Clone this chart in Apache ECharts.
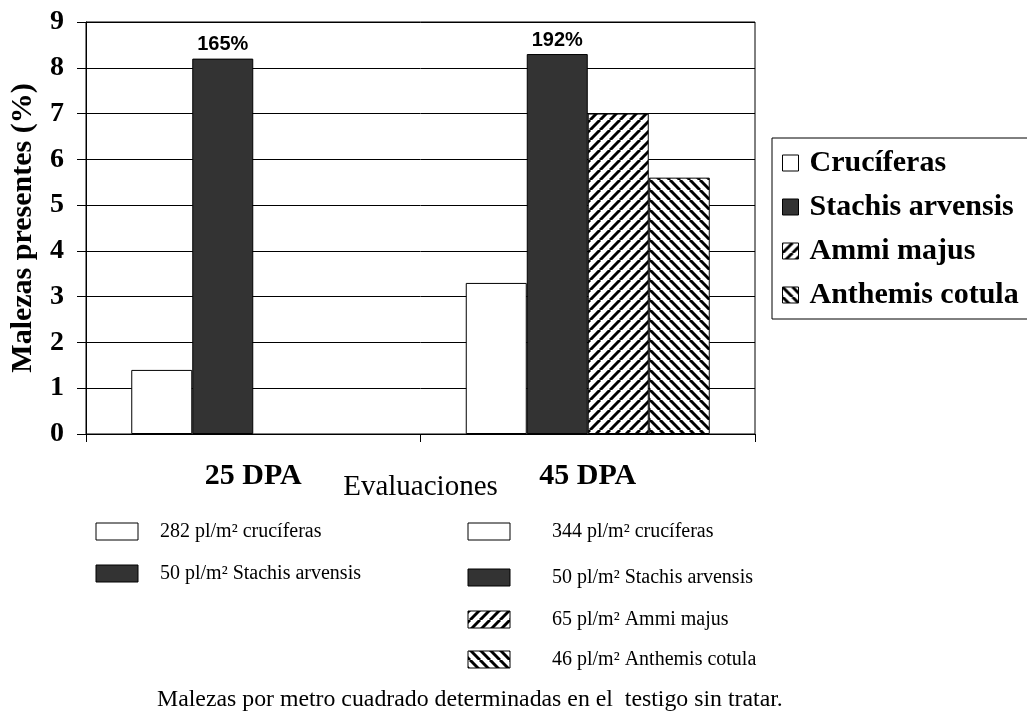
<!DOCTYPE html>
<html>
<head>
<meta charset="utf-8">
<script src="https://cdn.jsdelivr.net/npm/echarts@6/dist/echarts.min.js"></script>
<style>
  html, body { margin: 0; padding: 0; background: #fff; }
  #chart { width: 1027px; height: 713px; }
</style>
</head>
<body>
<div id="chart"></div>
<script>
// Categories (evaluation dates) and weed presence per species (%)
const categories = ['25 DPA', '45 DPA'];
const seriesNames = ['Crucíferas', 'Stachis arvensis', 'Ammi majus', 'Anthemis cotula'];
const cruciferas = [1.4, 3.3];
const stachis = [8.2, 8.3];
const ammi = [null, 7.0];
const anthemis = [null, 5.6];
const stachisLabels = ['165%', '192%'];

// Weed density in the untreated control (plants per m²)
const density25 = [282, 50];
const densityNames25 = ['crucíferas', 'Stachis arvensis'];
const density45 = [344, 50, 65, 46];
const densityNames45 = ['crucíferas', 'Stachis arvensis', 'Ammi majus', 'Anthemis cotula'];
const footNote = 'Malezas por metro cuadrado determinadas en el  testigo sin tratar.';

const SERIF = '"Liberation Serif", "Times New Roman", serif';
const SANS = '"Liberation Sans", Arial, sans-serif';

// Diagonal hatch tile: '/' or '\'
function stripeTile(dir, period, width) {
  const c = document.createElement('canvas');
  c.width = period; c.height = period;
  const g = c.getContext('2d');
  g.fillStyle = '#fff';
  g.fillRect(0, 0, period, period);
  g.strokeStyle = '#000';
  g.lineWidth = width;
  for (const k of [-period, 0, period]) {
    g.beginPath();
    if (dir === '/') { g.moveTo(k, period); g.lineTo(k + period, 0); }
    else { g.moveTo(k, 0); g.lineTo(k + period, period); }
    g.stroke();
  }
  return c;
}
const hatchUp = { image: stripeTile('/', 10, 3), repeat: 'repeat' };
const hatchDown = { image: stripeTile('\\', 10, 3), repeat: 'repeat' };
const fills = ['#ffffff', '#333333', hatchUp, hatchDown];
const seriesData = [cruciferas, stachis, ammi, anthemis];

const chart = echarts.init(document.getElementById('chart'), null, { renderer: 'canvas' });

// Density key below the chart
const graphics = [];
const col1 = { swX: 96, txX: 160, rows: [532, 574] };
const col2 = { swX: 468, txX: 552, rows: [532, 578, 620, 660] };
function addKey(col, values, names) {
  values.forEach((v, i) => {
    graphics.push({
      type: 'rect',
      shape: { x: col.swX, y: col.rows[i] - 9, width: 42, height: 17 },
      style: { fill: fills[i], stroke: '#000', lineWidth: 1 }
    });
    graphics.push({
      type: 'text',
      style: {
        x: col.txX, y: col.rows[i],
        text: v + ' pl/m² ' + names[i],
        font: '20px ' + SERIF, fill: '#000', verticalAlign: 'middle'
      }
    });
  });
}
addKey(col1, density25, densityNames25);
addKey(col2, density45, densityNames45);
graphics.push({
  type: 'text',
  style: {
    x: 157, y: 700, text: footNote,
    font: '23.8px ' + SERIF, fill: '#000', verticalAlign: 'middle'
  }
});

const option = {
  backgroundColor: '#fff',
  animation: false,
  grid: {
    left: 86, right: 272, top: 22, bottom: 279,
    show: true, borderColor: '#000', borderWidth: 1, backgroundColor: 'transparent'
  },
  legend: {
    orient: 'vertical',
    left: 772, top: 138,
    padding: [10, 60, 9, 10],
    itemGap: 14,
    itemWidth: 16, itemHeight: 16,
    icon: 'rect',
    borderColor: '#000', borderWidth: 1,
    itemStyle: { borderColor: '#000', borderWidth: 1 },
    textStyle: { fontFamily: SERIF, fontWeight: 'bold', fontSize: 30, lineHeight: 30, color: '#000', padding: [0, 0, 0, 6] },
    data: seriesNames
  },
  xAxis: {
    type: 'category',
    data: categories,
    boundaryGap: true,
    axisLine: { lineStyle: { color: '#000', width: 1 } },
    axisTick: { show: true, length: 8, lineStyle: { color: '#000' } },
    axisLabel: { margin: 27, fontFamily: SERIF, fontWeight: 'bold', fontSize: 30, color: '#000' },
    name: 'Evaluaciones',
    nameLocation: 'middle',
    nameGap: 39,
    nameMoveOverlap: false,
    nameTextStyle: { fontFamily: SERIF, fontSize: 29, color: '#000' }
  },
  yAxis: {
    type: 'value',
    min: 0, max: 9, interval: 1,
    axisLine: { show: true, lineStyle: { color: '#000', width: 1 } },
    axisTick: { show: true, length: 9, lineStyle: { color: '#000' } },
    axisLabel: { margin: 22, fontFamily: SERIF, fontWeight: 'bold', fontSize: 28, color: '#000' },
    splitLine: { show: true, lineStyle: { color: '#000', width: 1 } },
    name: 'Malezas presentes (%)',
    nameLocation: 'middle',
    nameGap: 48,
    nameMoveOverlap: false,
    nameTextStyle: { fontFamily: SERIF, fontWeight: 'bold', fontSize: 30, color: '#000' }
  },
  series: seriesNames.map((name, i) => ({
    name,
    type: 'bar',
    data: seriesData[i],
    barWidth: 61,
    barGap: '0%',
    itemStyle: { color: fills[i], borderColor: '#000', borderWidth: 1 },
    label: i === 1 ? {
      show: true, position: 'top', distance: 4,
      formatter: p => stachisLabels[p.dataIndex],
      fontFamily: SANS, fontWeight: 'bold', fontSize: 20, color: '#000'
    } : { show: false }
  })),
  graphic: graphics
};

chart.setOption(option);
</script>
</body>
</html>
